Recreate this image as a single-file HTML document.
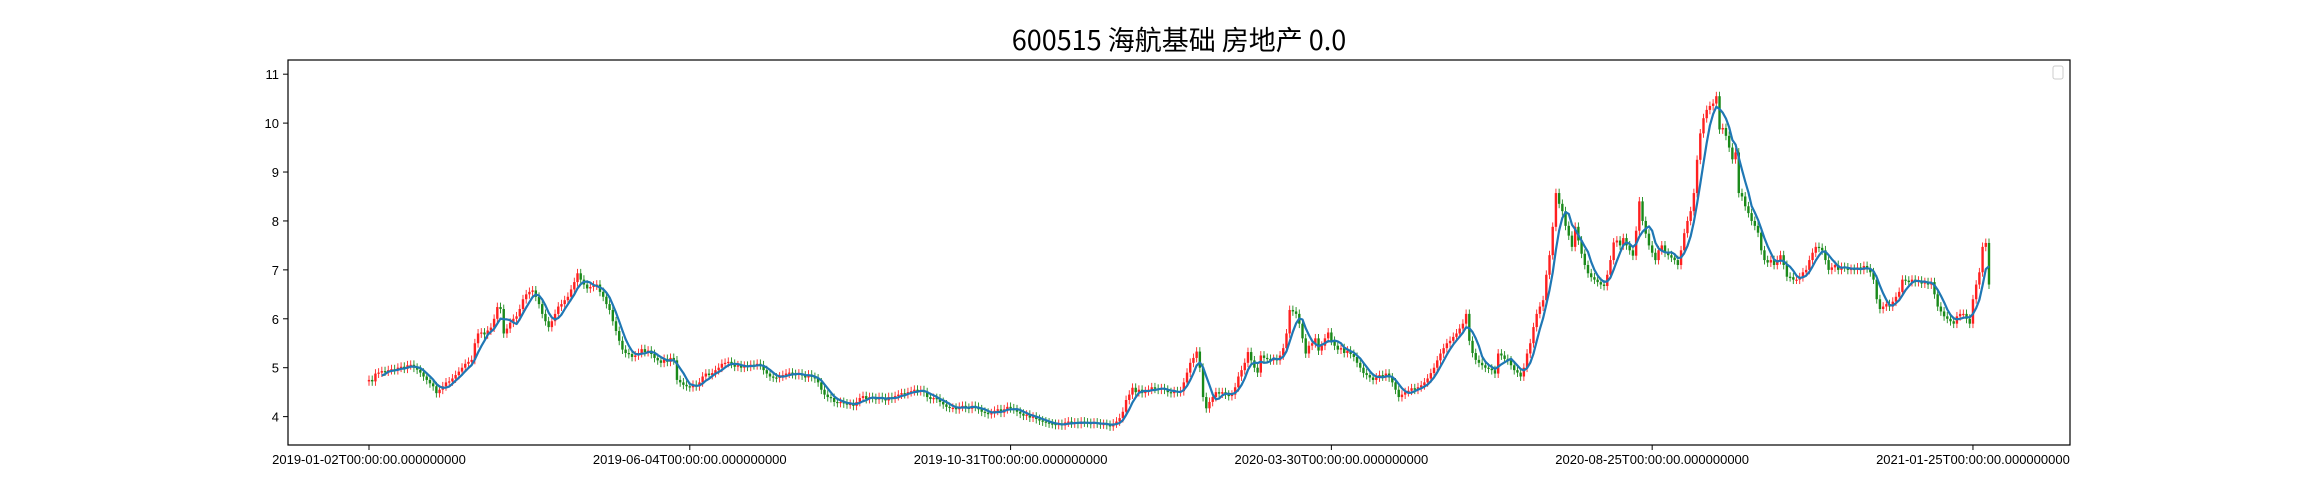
<!DOCTYPE html>
<html><head><meta charset="utf-8"><style>
html,body{margin:0;padding:0;background:#fff;}
svg{display:block;}
text{font-family:"Liberation Sans","Noto Sans CJK SC",sans-serif;}
</style></head><body>
<svg id="chart" width="2300" height="500" viewBox="0 0 2300 500" xmlns="http://www.w3.org/2000/svg">
<text x="1179" y="50" text-anchor="middle" font-size="27" fill="#000" style="font-family:'Noto Sans CJK SC',sans-serif">600515 海航基础 房地产 0.0</text>
<g id="plot"></g>
<rect x="288" y="60" width="1782" height="385" fill="none" stroke="#000" stroke-width="1.2"/>
<rect x="2053" y="66" width="10" height="13" rx="2" fill="#fff" stroke="#ccc" stroke-width="1"/>
<g id="yaxis"></g>
<g id="xaxis"></g>
</svg>
<script>
const closes = [
4.75,4.72,4.88,4.90,4.93,4.92,4.95,4.97,4.95,5.00,
5.02,4.98,5.05,5.06,5.00,4.96,4.90,4.82,4.75,4.68,
4.62,4.48,4.55,4.62,4.70,4.72,4.78,4.85,4.92,5.00,
5.08,5.12,5.16,5.50,5.70,5.72,5.68,5.76,5.82,6.00,
6.24,6.20,5.70,5.80,5.92,6.00,6.05,6.20,6.40,6.50,
6.55,6.58,6.45,6.30,6.10,5.95,5.83,5.95,6.10,6.25,
6.30,6.38,6.45,6.60,6.75,6.93,6.80,6.70,6.62,6.65,
6.68,6.70,6.55,6.45,6.30,6.18,5.95,5.75,5.55,5.37,
5.30,5.28,5.22,5.25,5.30,5.38,5.32,5.35,5.28,5.20,
5.15,5.10,5.18,5.12,5.20,5.15,4.75,4.70,4.65,4.62,
4.60,4.65,4.62,4.70,4.82,4.88,4.85,4.89,4.95,5.00,
5.08,5.10,5.12,5.08,5.02,5.05,5.00,5.04,5.02,5.06,
5.05,5.08,5.05,4.95,4.88,4.82,4.80,4.79,4.82,4.85,
4.88,4.90,4.87,4.85,4.88,4.84,4.80,4.86,4.81,4.78,
4.70,4.55,4.45,4.40,4.38,4.30,4.28,4.30,4.27,4.25,
4.26,4.22,4.30,4.38,4.42,4.36,4.40,4.38,4.35,4.40,
4.38,4.33,4.40,4.37,4.42,4.45,4.48,4.46,4.50,4.52,
4.55,4.52,4.54,4.50,4.40,4.36,4.38,4.37,4.30,4.25,
4.20,4.18,4.18,4.15,4.20,4.22,4.18,4.16,4.22,4.20,
4.15,4.10,4.08,4.05,4.07,4.12,4.15,4.08,4.15,4.20,
4.17,4.15,4.10,4.06,4.02,4.04,3.98,4.00,3.95,3.92,
3.90,3.88,3.86,3.85,3.83,3.85,3.82,3.88,3.90,3.86,
3.88,3.85,3.90,3.88,3.87,3.85,3.88,3.86,3.84,3.85,
3.83,3.80,3.86,3.90,3.97,4.10,4.34,4.45,4.59,4.50,
4.55,4.48,4.52,4.55,4.60,4.57,4.55,4.58,4.55,4.50,
4.48,4.52,4.50,4.52,4.70,4.90,5.10,5.20,5.33,5.00,
4.40,4.17,4.30,4.40,4.50,4.47,4.50,4.45,4.42,4.45,
4.60,4.82,4.95,5.10,5.32,5.15,5.00,4.90,5.25,5.20,
5.18,5.15,5.18,5.15,5.25,5.40,5.70,6.18,6.15,6.10,
5.90,5.60,5.29,5.45,5.50,5.60,5.35,5.45,5.60,5.72,
5.55,5.45,5.37,5.40,5.30,5.35,5.28,5.22,5.10,5.00,
4.89,4.85,4.80,4.75,4.80,4.85,4.82,4.88,4.80,4.70,
4.55,4.40,4.45,4.50,4.53,4.58,4.55,4.60,4.64,4.70,
4.78,4.89,5.00,5.15,5.29,5.40,5.50,5.55,5.63,5.70,
5.80,5.90,6.10,5.55,5.30,5.16,5.10,5.05,5.00,4.98,
4.95,4.88,5.29,5.25,5.18,5.15,5.05,4.95,4.90,4.82,
5.00,5.29,5.50,5.83,6.10,6.25,6.38,6.90,7.30,7.88,
8.57,8.35,8.20,7.90,7.70,7.47,7.88,7.60,7.33,7.10,
6.93,6.85,6.80,6.75,6.70,6.67,6.90,7.20,7.56,7.60,
7.50,7.65,7.50,7.40,7.29,7.80,8.40,8.00,7.74,7.50,
7.35,7.20,7.40,7.50,7.35,7.30,7.25,7.20,7.10,7.40,
7.75,8.00,8.20,8.57,9.25,9.79,10.10,10.27,10.35,10.40,
10.55,9.87,9.90,9.74,9.50,9.26,9.40,8.57,8.50,8.30,
8.16,8.00,7.90,7.76,7.40,7.20,7.15,7.20,7.10,7.20,
7.30,7.10,6.86,6.85,6.80,6.80,6.85,6.95,7.00,7.20,
7.35,7.47,7.45,7.40,7.20,7.00,7.05,7.10,7.00,7.06,
7.05,7.00,7.02,7.00,7.05,7.00,7.08,7.03,6.95,6.80,
6.40,6.20,6.25,6.30,6.25,6.35,6.45,6.55,6.80,6.78,
6.75,6.80,6.75,6.78,6.72,6.75,6.70,6.75,6.50,6.25,
6.15,6.05,6.00,5.95,5.90,6.05,6.10,6.10,6.00,5.90,
6.40,6.70,6.95,7.47,7.55,6.70
];
const firstOpen = 4.72;
const yTicks = [4,5,6,7,8,9,10,11];
const xTickIdx = [0,100,200,300,400,500];
const xTickLabels = ["2019-01-02T00:00:00.000000000","2019-06-04T00:00:00.000000000","2019-10-31T00:00:00.000000000","2020-03-30T00:00:00.000000000","2020-08-25T00:00:00.000000000","2021-01-25T00:00:00.000000000"];
const maWindow = 5;

const NS="http://www.w3.org/2000/svg";
const X0=288, X1=2070, Y0=60, Y1=445;
const xMin=-25.25, xMax=530.25, yMin=3.42, yMax=11.29;
function xs(i){return X0+(i-xMin)/(xMax-xMin)*(X1-X0);}
function ys(v){return Y1-(v-yMin)/(yMax-yMin)*(Y1-Y0);}
function mk(tag,attrs,parent){const e=document.createElementNS(NS,tag);for(const k in attrs)e.setAttribute(k,attrs[k]);parent.appendChild(e);return e;}

const plot=document.getElementById('plot');
const bw=(xs(1)-xs(0))*0.75;
for(let i=0;i<closes.length;i++){
  const o=i===0?firstOpen:closes[i-1], c=closes[i];
  const up=c>=o, col=up?'#ff2020':'#1a8a1a';
  const hi=Math.max(o,c)+0.09, lo=Math.min(o,c)-0.09;
  const g=mk('g',{},plot);
  
  
  mk('line',{x1:xs(i),x2:xs(i),y1:ys(hi),y2:ys(lo),stroke:col,'stroke-width':0.9},g);
  const top=ys(Math.max(o,c)), bot=ys(Math.min(o,c));
  mk('rect',{x:xs(i)-bw/2,y:top,width:bw,height:Math.max(bot-top,1.2),fill:col},g);
}
let pts=[];
for(let i=maWindow-1;i<closes.length;i++){
  let s=0;for(let k=0;k<maWindow;k++)s+=closes[i-k];
  pts.push(xs(i).toFixed(1)+','+ys(s/maWindow).toFixed(1));
}
const ma=mk('polyline',{points:pts.join(' '),fill:'none',stroke:'#1f77b4','stroke-width':2.2,'stroke-linejoin':'round'},plot);



const ya=document.getElementById('yaxis');
yTicks.forEach(v=>{
  const y=ys(v);
  mk('line',{x1:X0-5,x2:X0,y1:y,y2:y,stroke:'#000','stroke-width':1},ya);
  const t=mk('text',{x:X0-9,y:y+5,'text-anchor':'end','font-size':13,fill:'#000'},ya);
  
  
  t.textContent=v;
});
const xa=document.getElementById('xaxis');
xTickIdx.forEach((idx,k)=>{
  const x=xs(idx);
  mk('line',{x1:x,x2:x,y1:Y1,y2:Y1+5,stroke:'#000','stroke-width':1},xa);
  const t=mk('text',{x:x,y:Y1+19,'text-anchor':'middle','font-size':13,fill:'#000'},xa);
  
  
  t.textContent=xTickLabels[k];
});
</script>
</body></html>
